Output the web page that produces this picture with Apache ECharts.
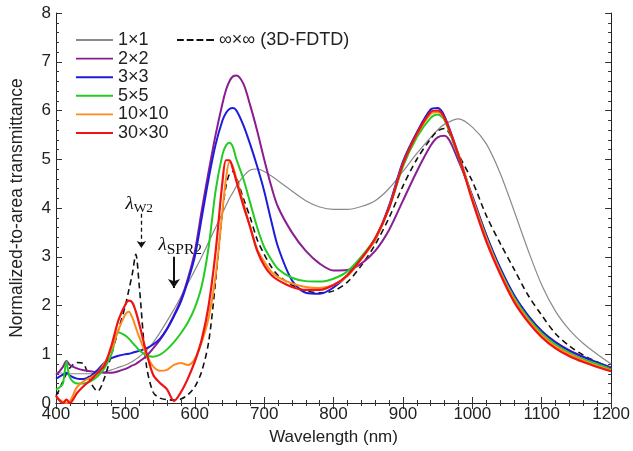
<!DOCTYPE html>
<html>
<head>
<meta charset="utf-8">
<script src="https://cdn.jsdelivr.net/npm/echarts@6/dist/echarts.min.js"></script>
<style>
html,body{margin:0;padding:0;background:#fff}
#main{width:633px;height:451px}
</style>
</head>
<body>
<div id="main"></div>
<script>
// wavelength grid (nm)
var wl = [400,405,410,415,420,
  430,440,450,460,470,480,490,
  500,505,510,515,520,
  530,540,550,560,570,580,590,600,610,620,630,640,
  645,650,655,660,
  670,680,690,700,710,720,
  740,760,780,800,820,840,860,880,900,920,940,
  950,960,980,1000,
  1020,1040,1060,1080,1100,1120,1140,1160,1180,1200];

var t1x1 = [0.62,0.62,0.61,0.61,0.6,
  0.6,0.6,0.6,0.62,0.64,0.68,0.73,
  0.78,0.81,0.85,0.9,0.95,
  1.07,1.24,1.45,1.68,1.92,2.18,2.45,2.72,3.0,3.3,3.6,3.9,
  4.05,4.2,4.32,4.45,
  4.65,4.78,4.8,4.75,4.66,4.56,
  4.35,4.15,4.02,3.97,3.97,4.03,4.15,4.4,4.75,5.12,5.45,
  5.6,5.72,5.83,5.66,
  5.32,4.72,3.95,3.15,2.42,1.88,1.5,1.22,1.0,0.8];

var t2x2 = [0.58,0.65,0.74,0.86,0.78,
  0.71,0.67,0.65,0.63,0.62,0.62,0.65,
  0.7,0.73,0.77,0.8,0.85,
  0.96,1.12,1.3,1.52,1.8,2.12,2.55,3.1,3.95,4.75,5.5,6.15,
  6.42,6.6,6.7,6.72,
  6.55,6.1,5.58,5.0,4.46,4.02,
  3.5,3.12,2.86,2.72,2.73,2.86,3.12,3.55,4.15,4.75,5.28,
  5.45,5.48,4.97,4.25,
  3.45,2.75,2.2,1.8,1.48,1.25,1.08,0.95,0.83,0.73];

var t3x3 = [0.5,0.54,0.58,0.62,0.56,
  0.5,0.49,0.55,0.68,0.83,0.92,0.97,
  1.0,1.01,1.03,1.05,1.07,
  1.12,1.2,1.32,1.52,1.78,2.08,2.5,3.0,3.8,4.6,5.3,5.8,
  5.95,6.03,6.05,6.0,
  5.7,5.3,4.85,4.35,3.75,3.2,
  2.52,2.26,2.24,2.37,2.62,2.98,3.35,4.05,4.95,5.55,6.02,
  6.05,5.88,5.1,4.22,
  3.45,2.78,2.22,1.8,1.47,1.24,1.07,0.94,0.83,0.71];

var t5x5 = [0.28,0.32,0.4,0.85,0.52,
  0.4,0.4,0.45,0.55,0.72,1.0,1.45,
  1.38,1.32,1.24,1.16,1.08,
  0.98,0.95,0.99,1.1,1.25,1.43,1.65,1.95,2.4,3.2,4.35,5.1,
  5.28,5.34,5.25,5.0,
  4.6,4.1,3.6,3.2,2.95,2.75,
  2.57,2.5,2.49,2.55,2.7,3.0,3.38,4.0,4.85,5.45,5.85,
  5.92,5.8,5.05,4.2,
  3.4,2.72,2.17,1.75,1.43,1.2,1.03,0.9,0.8,0.69];

var t10x10 = [0.12,0.07,0.02,0.0,0.03,
  0.32,0.45,0.52,0.62,0.82,1.1,1.5,
  1.82,1.87,1.75,1.55,1.35,
  1.0,0.75,0.66,0.68,0.78,0.82,0.78,0.9,1.25,1.75,2.6,3.95,
  4.6,4.95,4.85,4.6,
  4.1,3.6,3.15,2.9,2.7,2.58,
  2.45,2.38,2.36,2.42,2.6,2.95,3.35,4.0,4.9,5.5,5.93,
  5.97,5.82,5.1,4.2,
  3.38,2.7,2.13,1.71,1.39,1.16,1.0,0.87,0.76,0.67];

var t30x30 = [0.15,0.05,0.0,0.07,0.0,
  0.2,0.35,0.47,0.62,0.78,1.18,1.7,
  2.02,2.1,2.06,1.88,1.62,
  1.05,0.58,0.41,0.28,0.04,0.22,0.5,0.85,1.3,2.0,3.1,4.55,
  4.98,4.98,4.8,4.55,
  4.05,3.6,3.12,2.82,2.63,2.52,
  2.38,2.32,2.32,2.42,2.62,2.96,3.38,4.0,4.9,5.52,5.97,
  6.0,5.84,5.08,4.15,
  3.32,2.65,2.08,1.67,1.35,1.12,0.96,0.84,0.74,0.65];

var tInf = [0.15,0.28,0.45,0.6,0.72,
  0.83,0.8,0.42,0.24,0.52,1.0,1.5,
  2.0,2.32,2.65,3.05,2.4,
  0.8,0.22,0.1,0.07,0.06,0.08,0.17,0.33,0.65,1.25,2.5,3.95,
  4.45,4.7,4.75,4.62,
  4.2,3.8,3.35,3.05,2.8,2.62,
  2.42,2.3,2.26,2.3,2.48,2.82,3.25,3.8,4.45,5.0,5.42,
  5.58,5.63,5.1,4.55,
  3.85,3.28,2.75,2.22,1.8,1.42,1.17,0.98,0.84,0.72];

// annotation arrows [x, yStart, yEnd]
var arrowW2 = [523, 3.88, 3.18];
var arrowSPR2 = [570, 3.0, 2.36];

function pairs(v) { return wl.map(function (w, i) { return [w, v[i]]; }); }

function line(name, v, color, width, dash, z) {
  return {
    name: name, type: 'line', data: pairs(v), showSymbol: false, symbol: 'none',
    smooth: 0.3, z: z, silent: true,
    lineStyle: { color: color, width: width, type: dash ? [6, 4] : 'solid' },
    itemStyle: { color: color }
  };
}

var FONT = 'Liberation Sans';
var LINE_ICON = 'path://M0,0H38V2H0Z';
var DASH_ICON = 'path://M0,0H7V2H0Z M10,0H17V2H10Z M20,0H27V2H20Z M30,0H38V2H30Z';

var chart = echarts.init(document.getElementById('main'));

var gray = line('1×1', t1x1, '#8a8a8a', 1.2, false, 2);
var inf = line('∞×∞ (3D-FDTD)', tInf, '#111', 1.6, true, 3);
inf.markLine = {
  silent: true, symbol: ['none', 'arrow'], symbolSize: 7, label: { show: false },
  lineStyle: { color: '#111', width: 1.3, type: [4, 3] },
  data: [[{ coord: [arrowW2[0], arrowW2[1]] }, { coord: [arrowW2[0], arrowW2[2]] }]]
};
gray.markLine = {
  silent: true, symbol: ['none', 'arrow'], symbolSize: 9, label: { show: false },
  lineStyle: { color: '#111', width: 2, type: 'solid' },
  data: [[{ coord: [arrowSPR2[0], arrowSPR2[1]] }, { coord: [arrowSPR2[0], arrowSPR2[2]] }]]
};

var tickLine = { color: '#333', width: 1 };
var legendText = { fontFamily: FONT, fontSize: 18, color: '#222', lineHeight: 16 };

chart.setOption({
  animation: false,
  grid: { left: 50, right: 20, top: 13, bottom: 46 },
  legend: [{
    data: ['1×1', '2×2', '3×3', '5×5', '10×10', '30×30'],
    icon: LINE_ICON, orient: 'vertical', left: 71, top: 26,
    itemWidth: 37, itemHeight: 2.4, itemGap: 0.6, textStyle: legendText
  }, {
    data: ['∞×∞ (3D-FDTD)'],
    icon: DASH_ICON, left: 172, top: 26,
    itemWidth: 37, itemHeight: 2, textStyle: legendText
  }],
  xAxis: [{
    type: 'value', min: 400, max: 1200, interval: 100,
    name: 'Wavelength (nm)', nameLocation: 'middle', nameGap: 26,
    nameTextStyle: { fontFamily: FONT, fontSize: 17, color: '#222' },
    axisLine: { lineStyle: { color: '#222', width: 1 } },
    axisTick: { inside: true, length: 6, lineStyle: tickLine },
    minorTick: { show: true, splitNumber: 5, length: 3, lineStyle: tickLine },
    axisLabel: { fontFamily: FONT, fontSize: 17, color: '#222', margin: 3,
      formatter: function (v) { return String(v); } },
    splitLine: { show: false }
  }, {
    type: 'value', min: 400, max: 1200, interval: 100, position: 'top',
    axisLine: { lineStyle: { color: '#222', width: 1 } },
    axisTick: { inside: true, length: 6, lineStyle: tickLine },
    minorTick: { show: true, splitNumber: 5, length: 3, lineStyle: tickLine },
    axisLabel: { show: false }, splitLine: { show: false }
  }],
  yAxis: [{
    type: 'value', min: 0, max: 8, interval: 1,
    name: 'Normalized-to-area transmittance', nameLocation: 'middle', nameGap: 30,
    nameTextStyle: { fontFamily: FONT, fontSize: 17.5, color: '#222' },
    axisLine: { show: true, lineStyle: { color: '#222', width: 1 } },
    axisTick: { show: true, inside: true, length: 6, lineStyle: tickLine },
    minorTick: { show: true, splitNumber: 5, length: 3, lineStyle: tickLine },
    axisLabel: { fontFamily: FONT, fontSize: 17, color: '#222', margin: 5 },
    splitLine: { show: false }
  }, {
    type: 'value', min: 0, max: 8, interval: 1, position: 'right',
    axisLine: { show: true, lineStyle: { color: '#222', width: 1 } },
    axisTick: { show: true, inside: true, length: 6, lineStyle: tickLine },
    minorTick: { show: true, splitNumber: 5, length: 3, lineStyle: tickLine },
    axisLabel: { show: false }, splitLine: { show: false }
  }],
  series: [
    gray,
    line('2×2', t2x2, '#8a1d92', 2, false, 4),
    line('3×3', t3x3, '#1c1cdc', 2, false, 5),
    line('5×5', t5x5, '#22cc22', 2, false, 6),
    line('10×10', t10x10, '#ff8a1c', 2, false, 7),
    line('30×30', t30x30, '#ee1414', 2.2, false, 8),
    inf
  ]
});

// λ labels placed in data coordinates
var pW2 = chart.convertToPixel({ xAxisIndex: 0, yAxisIndex: 0 }, [520, 4.08]);
var pSPR = chart.convertToPixel({ xAxisIndex: 0, yAxisIndex: 0 }, [579, 3.24]);
var rich = {
  l: { fontFamily: 'Liberation Serif', fontStyle: 'italic', fontSize: 19, fill: '#111' },
  s: { fontFamily: 'Liberation Serif', fontSize: 13.5, fill: '#111', padding: [9, 0, 0, 0] },
  t: { fontFamily: 'Liberation Serif', fontSize: 15.5, fill: '#111', padding: [9, 0, 0, 0] }
};
chart.setOption({
  graphic: [
    { type: 'text', x: pW2[0], y: pW2[1], silent: true,
      style: { text: '{l|λ}{s|W2}', rich: rich, align: 'center', verticalAlign: 'middle' } },
    { type: 'text', x: pSPR[0], y: pSPR[1], silent: true,
      style: { text: '{l|λ}{t|SPR2}', rich: rich, align: 'center', verticalAlign: 'middle' } }
  ]
});
</script>
</body>
</html>
